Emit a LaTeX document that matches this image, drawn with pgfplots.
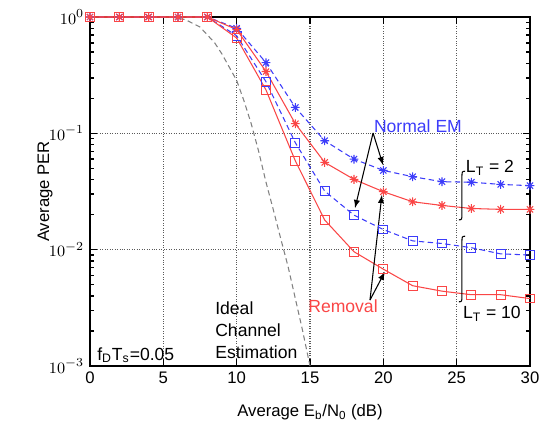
\documentclass[border=0pt]{standalone}
\usepackage{fontspec}
\setmainfont{Liberation Sans}
\setsansfont{Liberation Sans}
\usepackage{pgfplots}
\usepackage{pgfplotstable}
\pgfplotsset{compat=1.18}

\definecolor{emblue}{RGB}{60,60,250}
\definecolor{remred}{RGB}{250,70,70}

% gnuplot-like star: + and x on top of each other
\pgfdeclareplotmark{gpstar}{%
  \pgfpathmoveto{\pgfqpoint{-\pgfplotmarksize}{0pt}}\pgfpathlineto{\pgfqpoint{\pgfplotmarksize}{0pt}}%
  \pgfpathmoveto{\pgfqpoint{0pt}{-\pgfplotmarksize}}\pgfpathlineto{\pgfqpoint{0pt}{\pgfplotmarksize}}%
  \pgfpathmoveto{\pgfqpoint{-.707\pgfplotmarksize}{-.707\pgfplotmarksize}}\pgfpathlineto{\pgfqpoint{.707\pgfplotmarksize}{.707\pgfplotmarksize}}%
  \pgfpathmoveto{\pgfqpoint{-.707\pgfplotmarksize}{.707\pgfplotmarksize}}\pgfpathlineto{\pgfqpoint{.707\pgfplotmarksize}{-.707\pgfplotmarksize}}%
  \pgfusepathqstroke}

% snr, normal EM LT=2, removal LT=2, normal EM LT=10, removal LT=10
\pgfplotstableread{
snr  bs     rs     bq     rq
0    1      1      1      1
2    1      1      1      1
4    1      1      1      1
6    1      1      1      1
8    1      1      1      1
10   0.80   0.78   0.69   0.66
12   0.405  0.340  0.278  0.236
14   0.167  0.121  0.083  0.058
16   0.0864 0.0563 0.0319 0.0180
18   0.0600 0.0402 0.0198 0.0096
20   0.0480 0.0315 0.0149 0.0068
22   0.0424 0.0258 0.0119 0.0049
24   0.0384 0.0240 0.0113 0.0044
26   0.0380 0.0226 0.0104 0.0041
28   0.0364 0.0222 0.0092 0.0041
30   0.0355 0.0222 0.0090 0.0038
}\pertable

\pgfplotstableread{
snr  per
5.5  1
6.5  0.95
7.5  0.82
8.5  0.60
9.0  0.48
9.5  0.37
10.0 0.285
10.5 0.19
11.0 0.12
11.5 0.07
12.0 0.038
12.5 0.022
13.0 0.0125
13.5 0.0072
14.0 0.0038
14.5 0.0020
15.0 0.001
}\idealtable

\begin{document}
\fontsize{9.5}{11.4}\selectfont
\begin{tikzpicture}
\useasboundingbox (-1.8cm,-1.14cm) rectangle (9.0cm,7.32cm);
\begin{axis}[
    at={(0,0)}, anchor=south west,
    scale only axis,
    width=8.8cm, height=6.98cm,
    ymode=log,
    xmin=0, xmax=30, ymin=1e-3, ymax=1,
    xtick={0,5,...,30},
    xticklabels={0,5,10,15,20,25,30},
    ytick={1e-3,1e-2,1e-1,1},
    grid=major,
    major grid style={densely dotted, black!65, line width=0.6pt},
    axis line style={line width=1.1pt},
    tick style={black, line width=0.8pt},
    major tick length=4pt, minor tick length=2.5pt,
    xlabel={Average E\textsubscript{b}/N\textsubscript{0} (dB)},
    ylabel={Average PER},
    xlabel style={at={(axis description cs:0.5,-0.132)}, anchor=center},
    ylabel style={at={(axis description cs:-0.102,0.5)}, anchor=center},
    clip=false,
]
\addplot[densely dashed, gray, line width=0.6pt] table[x=snr, y=per] {\idealtable};

\addplot[emblue, line width=0.6pt, dash pattern=on 3pt off 2pt, mark=gpstar, mark size=2.5pt, mark options={solid}] table[x=snr, y=bs] {\pertable};
\addplot[emblue, line width=0.6pt, dash pattern=on 3pt off 2pt, mark=square, mark size=2.5pt, mark options={solid}] table[x=snr, y=bq] {\pertable};
\addplot[remred, line width=0.6pt, mark=gpstar, mark size=2.5pt] table[x=snr, y=rs] {\pertable};
\addplot[remred, line width=0.6pt, mark=square, mark size=2.5pt] table[x=snr, y=rq] {\pertable};

% annotations
\node[text=emblue, font=\fontsize{10}{12}\selectfont] at (axis cs:22.36,0.1156) {Normal EM};
\draw[-latex, line width=0.6pt] (axis cs:19.3,0.1007) -- (axis cs:19.98,0.0534);
\draw[-latex, line width=0.6pt] (axis cs:19.3,0.1007) -- (axis cs:18.07,0.0228);

\node[text=remred, font=\fontsize{10}{12}\selectfont] at (axis cs:17.25,0.00328) {Removal};
\draw[-latex, line width=0.6pt] (axis cs:19.09,0.00369) -- (axis cs:19.9,0.0295);
\draw[-latex, line width=0.6pt] (axis cs:19.09,0.00369) -- (axis cs:20.1,0.00643);

\coordinate (b1t) at (axis cs:25.36,0.0456);
\coordinate (b1b) at (axis cs:25.36,0.0187);
\coordinate (b2t) at (axis cs:25.36,0.0126);
\coordinate (b2b) at (axis cs:25.36,0.00369);
\draw[line width=0.6pt] ([xshift=1.8pt,yshift=1pt]b1t) .. controls ([yshift=1pt]b1t) .. ([yshift=-3pt]b1t)
   -- ([yshift=3pt]b1b) .. controls ([yshift=-1pt]b1b) .. ([xshift=-1.8pt,yshift=-1pt]b1b);
\draw[line width=0.6pt] ([xshift=1.8pt,yshift=1pt]b2t) .. controls ([yshift=1pt]b2t) .. ([yshift=-3pt]b2t)
   -- ([yshift=3pt]b2b) .. controls ([yshift=-1pt]b2b) .. ([xshift=-1.8pt,yshift=-1pt]b2b);

\node[font=\fontsize{10}{12}\selectfont] at (axis cs:27.27,0.0503) {L\textsubscript{T} = 2};
\node[font=\fontsize{10}{12}\selectfont] at (axis cs:27.4,0.0028) {L\textsubscript{T} = 10};

\node[anchor=west, align=left, font=\fontsize{10}{12.4}\selectfont, inner sep=0pt] at (axis cs:8.52,0.00204) {Ideal\\Channel\\Estimation};
\node[anchor=west, inner sep=0pt, font=\fontsize{10}{12}\selectfont] at (axis cs:0.477,0.00124) {f\textsubscript{D}T\textsubscript{s}=0.05};
\end{axis}
\end{tikzpicture}
\end{document}
